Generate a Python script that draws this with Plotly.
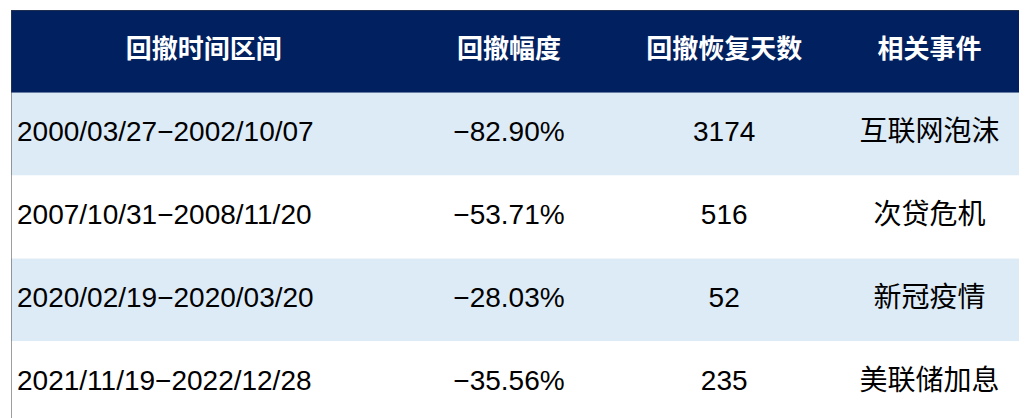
import plotly.graph_objects as go

headers = ["回撤时间区间", "回撤幅度", "回撤恢复天数", "相关事件"]
periods = ["2000/03/27-2002/10/07", "2007/10/31-2008/11/20", "2020/02/19-2020/03/20", "2021/11/19-2022/12/28"]
drawdowns = ["-82.90%", "-53.71%", "-28.03%", "-35.56%"]
recovery_days = ["3174", "516", "52", "235"]
events = ["互联网泡沫", "次贷危机", "新冠疫情", "美联储加息"]

col_edges = [0, 385, 610, 815, 1020]
row_colors = ["#DDEBF7", "#FFFFFF", "#DDEBF7", "#FFFFFF"]
font = "Liberation Sans, Noto Sans CJK SC, sans-serif"

columns = [[p.replace("-", "−") for p in periods],
           [d.replace("-", "−") for d in drawdowns], recovery_days, events]
rows = list(range(len(periods)))
centers = [(col_edges[i] + col_edges[i + 1]) / 2 for i in range(4)]

fig = go.Figure()
shapes = [dict(type="rect", xref="x", yref="y", x0=col_edges[0], x1=col_edges[-1],
               y0=-1.5, y1=-0.5, fillcolor="#002060", line_width=0, layer="below")]
for r in rows:
    shapes.append(dict(type="rect", xref="x", yref="y", x0=col_edges[0], x1=col_edges[-1],
                       y0=r - 0.5, y1=r + 0.5, fillcolor=row_colors[r], line_width=0, layer="below"))
shapes.append(dict(type="rect", xref="x", yref="y", x0=col_edges[0], x1=col_edges[-1],
                   y0=-1.5, y1=len(rows) - 0.5, line=dict(color="#404040", width=1)))

for i, h in enumerate(headers):
    fig.add_trace(go.Scatter(x=[centers[i]], y=[-1], mode="text", text=["<b>%s</b>" % h],
                             textfont=dict(color="white", size=26, family=font),
                             textposition="middle center", hoverinfo="skip"))
for i, col in enumerate(columns):
    if i == 0:
        xs = [col_edges[0] + 6] * len(rows); pos = "middle right"
    else:
        xs = [centers[i]] * len(rows); pos = "middle center"
    fig.add_trace(go.Scatter(x=xs, y=rows, mode="text", text=col,
                             textfont=dict(color="black", size=28, family=font),
                             textposition=pos, hoverinfo="skip"))

fig.update_layout(width=1027, height=418, margin=dict(l=3, r=3, t=2, b=2),
                  paper_bgcolor="white", plot_bgcolor="white", showlegend=False, shapes=shapes,
                  xaxis=dict(range=[col_edges[0], col_edges[-1]], visible=False, fixedrange=True),
                  yaxis=dict(range=[len(rows) - 0.5, -1.5], visible=False, fixedrange=True))
fig.write_html("out.html")
